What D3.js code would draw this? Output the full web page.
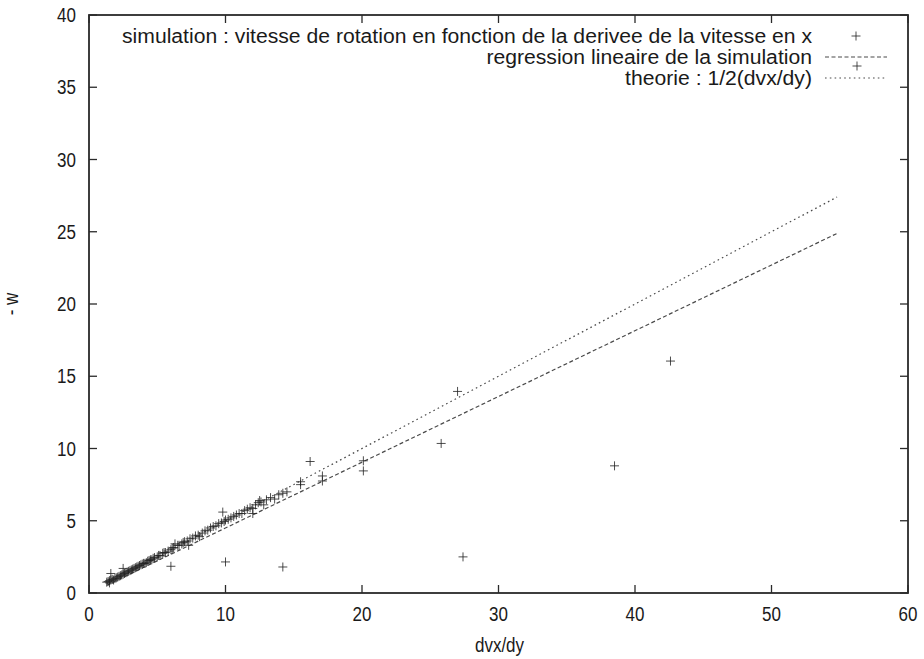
<!DOCTYPE html>
<html><head><meta charset="utf-8">
<script src="https://cdn.jsdelivr.net/npm/d3@7"></script>
<style>body{margin:0;background:#fff}text{font-family:"Liberation Sans",Arial,sans-serif;fill:#1a1a1a}</style>
</head><body><svg id="c" width="924" height="659"></svg>
<script>
const xTicks=[0,10,20,30,40,50,60];
const yTicks=[0,5,10,15,20,25,30,35,40];
const simX=[1.3,1.4,1.5,1.6,1.5,1.7,1.8,1.9,2.0,2.1,1.6,2.2,2.3,2.4,2.5,2.6,2.7,2.8,2.9,2.5,3.0,3.1,3.2,3.3,3.4,3.5,3.6,3.7,3.8,3.9,4.0,4.1,4.2,4.3,4.4,4.5,4.6,4.7,4.8,5.0,5.1,5.2,5.4,5.5,5.6,5.8,6.0,6.1,6.2,6.3,6.5,6.6,6.8,6.9,7.0,7.2,7.3,7.4,7.6,7.8,8.0,8.1,8.3,8.5,8.7,8.9,9.1,9.3,9.5,9.7,9.9,10.0,10.2,10.4,10.6,10.8,11.0,11.2,11.4,11.6,11.8,12.0,12.2,12.4,12.6,12.8,13.0,13.3,13.6,13.9,14.2,14.5,15.5,15.5,12.5,12.0,
  6.0,10.0,9.8,14.2,27.4,38.5,42.6,25.8,27.0,16.2,17.1,17.1,20.1,20.1];
const simY=[0.75,0.8,0.85,0.9,0.7,0.95,0.9,1.0,1.05,1.1,1.35,1.15,1.2,1.25,1.3,1.35,1.4,1.45,1.5,1.7,1.55,1.6,1.65,1.7,1.75,1.8,1.85,1.9,1.95,2.0,2.05,2.05,2.1,2.2,2.25,2.3,2.3,2.4,2.45,2.5,2.6,2.6,2.75,2.8,2.8,2.9,3.0,3.1,3.15,3.4,3.3,3.3,3.4,3.5,3.55,3.6,3.3,3.75,3.8,3.95,4.0,3.9,4.15,4.3,4.35,4.5,4.6,4.65,4.8,4.85,4.95,5.05,5.1,5.2,5.3,5.4,5.5,5.5,5.7,5.8,5.9,5.85,6.1,6.25,6.3,6.1,6.45,6.6,6.5,6.8,6.9,7.0,7.5,7.7,6.4,5.5,
  1.85,2.15,5.6,1.8,2.5,8.8,16.05,10.35,13.95,9.1,8.1,7.75,9.15,8.45];
const lineX=[1.3,54.8];
const regSlope=0.455, regIntercept=-0.05;
const theorySlope=0.5;
const legendLabels=["simulation : vitesse de rotation en fonction de la derivee de la vitesse en x","regression lineaire de la simulation","theorie : 1/2(dvx/dy)"];
const xLabel="dvx/dy", yLabel="- w";

const svg=d3.select("#c");
const L=89,R=908,T=15,B=593;
const x=d3.scaleLinear().domain([0,60]).range([L,R]);
const y=d3.scaleLinear().domain([0,40]).range([B,T]);
const frame="#2a2a2a", lineCol="#4a4a4a";
const FS=20;

function ctext(sel,px,py,str,anchor,size,ratio){
  const t=sel.append("text").attr("x",px).attr("y",py).attr("text-anchor",anchor).attr("font-size",size).text(str);
  const w=t.node().getComputedTextLength();
  t.attr("textLength",w*ratio).attr("lengthAdjust","spacingAndGlyphs");
  return t;
}

const g=svg.append("g");
xTicks.forEach(t=>{
  g.append("line").attr("x1",x(t)).attr("x2",x(t)).attr("y1",B).attr("y2",B-8).attr("stroke",frame).attr("stroke-width",1.3);
  g.append("line").attr("x1",x(t)).attr("x2",x(t)).attr("y1",T).attr("y2",T+8).attr("stroke",frame).attr("stroke-width",1.3);
  ctext(g,x(t),B+28,String(t),"middle",FS,0.85);
});
yTicks.forEach(t=>{
  g.append("line").attr("x1",L).attr("x2",L+8).attr("y1",y(t)).attr("y2",y(t)).attr("stroke",frame).attr("stroke-width",1.3);
  g.append("line").attr("x1",R).attr("x2",R-8).attr("y1",y(t)).attr("y2",y(t)).attr("stroke",frame).attr("stroke-width",1.3);
  ctext(g,L-13,y(t)+7,String(t),"end",FS,0.85);
});
svg.append("rect").attr("x",L).attr("y",T).attr("width",R-L).attr("height",B-T).attr("fill","none").attr("stroke",frame).attr("stroke-width",1.8);

ctext(svg,(L+R)/2+1,652,xLabel,"middle",FS,0.85);
svg.append("g").attr("transform","translate(18,"+((T+B)/2)+") rotate(-90)").call(s=>ctext(s,0,0,yLabel,"middle",FS,0.85));

const lg=d3.line().x(d=>x(d[0])).y(d=>y(d[1]));
svg.append("path").attr("d",lg(lineX.map(v=>[v,regSlope*v+regIntercept]))).attr("fill","none").attr("stroke",lineCol).attr("stroke-width",1.2).attr("stroke-dasharray","4,2.5");
svg.append("path").attr("d",lg(lineX.map(v=>[v,theorySlope*v]))).attr("fill","none").attr("stroke",lineCol).attr("stroke-width",1.2).attr("stroke-dasharray","1.6,3.2");

const pts=simX.map((v,i)=>[v,simY[i]]);
const plus=(sel,cx,cy,s)=>sel.append("path").attr("d",`M${cx-s},${cy}H${cx+s}M${cx},${cy-s}V${cy+s}`).attr("stroke","#222").attr("stroke-width",1).attr("fill","none").attr("opacity",0.8);
const pg=svg.append("g");
pts.forEach(p=>plus(pg,x(p[0]),y(p[1]),4.5));

// legend
const lx=812, sx1=825, sx2=887;
const rows=[36,57,78];
const lgEl=svg.append("g");
let ratio=1;
legendLabels.forEach((s,i)=>{
  const t=lgEl.append("text").attr("x",lx).attr("y",rows[i]+7).attr("text-anchor","end").attr("font-size",FS).text(s);
  const w=t.node().getComputedTextLength();
  if(i===0) ratio=690/w;
  t.attr("textLength",w*ratio).attr("lengthAdjust","spacingAndGlyphs");
});
plus(lgEl,856,rows[0],4.5);
lgEl.append("line").attr("x1",sx1).attr("x2",sx2).attr("y1",rows[1]).attr("y2",rows[1]).attr("stroke",lineCol).attr("stroke-width",1.2).attr("stroke-dasharray","4,2.5");
plus(lgEl,857,rows[1]+9,4.5);
lgEl.append("line").attr("x1",sx1).attr("x2",sx2).attr("y1",rows[2]).attr("y2",rows[2]).attr("stroke",lineCol).attr("stroke-width",1.2).attr("stroke-dasharray","1.6,3.2");
</script></body></html>
